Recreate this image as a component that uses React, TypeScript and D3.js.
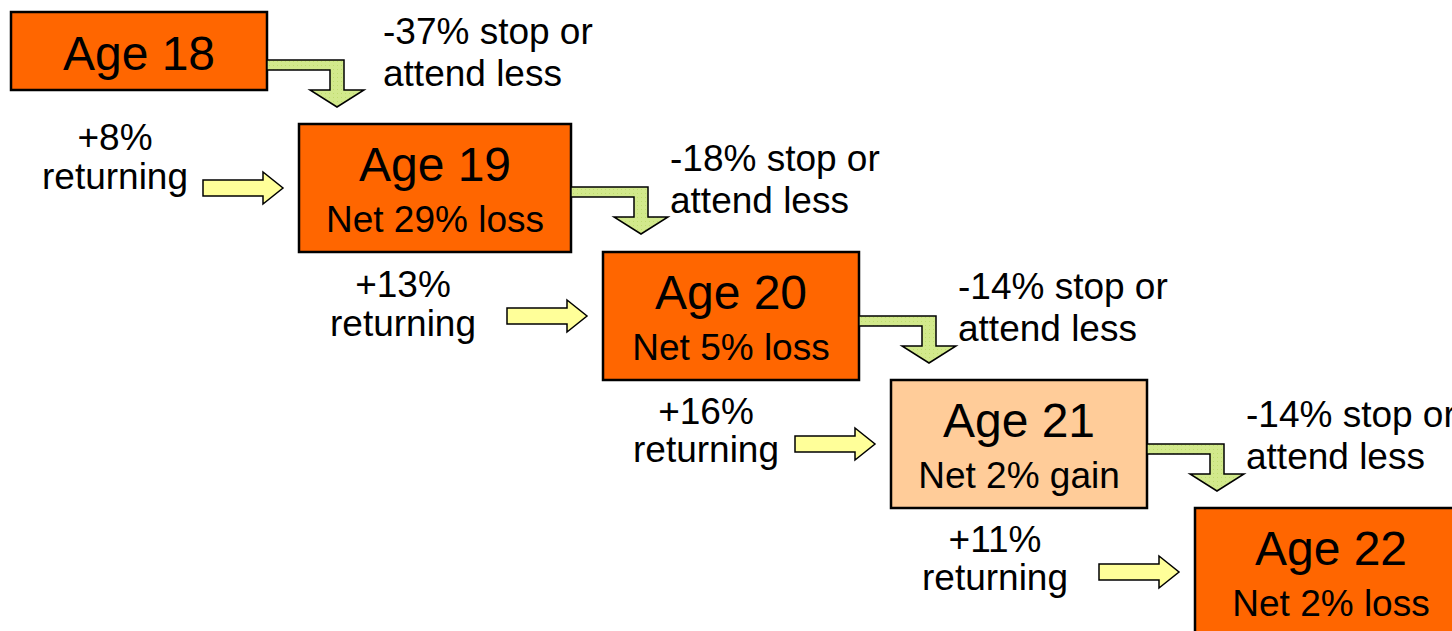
import React from "react";
import * as d3 from "d3";

// ---- data ----
const ages = ["Age 18", "Age 19", "Age 20", "Age 21", "Age 22"];
const netChange = ["", "Net 29% loss", "Net 5% loss", "Net 2% gain", "Net 2% loss"];
const stopPct = [-37, -18, -14, -14];
const returningPct = [8, 13, 16, 11];
const boxFills = ["#FF6600", "#FF6600", "#FF6600", "#FFCC99", "#FF6600"];

// ---- layout ----
const W = 1452;
const H = 631;
const boxX = [11, 299, 603, 891, 1195];
const boxY = [12, 124, 252, 380, 508];
const boxW = [256, 272, 256, 256, 272];
const boxH = [78, 128, 128, 128, 128];
const shaftTop = [60, 187, 316, 444];
const stopLabelX = [383, 670, 958, 1246];
const stopLabelY = [44, 171, 299, 427];
const retLabelX = [115, 403, 706, 995];
const retLabelY1 = [150, 297, 424, 552];
const retLabelY2 = [189, 336, 462, 590];

const FONT = "'Liberation Sans', Arial, Helvetica, sans-serif";
const SMALL = 37;

const line = d3.line<[number, number]>().curve(d3.curveLinearClosed);

function bentArrow(i: number): string {
  const x0 = boxX[i] + boxW[i];
  const outer = x0 + 77;
  const inner = outer - 14;
  const st = shaftTop[i];
  const sb = st + 10;
  const ht = st + 30;
  const cx = (outer + inner) / 2;
  const pts: [number, number][] = [
    [x0, st],
    [outer, st],
    [outer, ht],
    [cx + 27, ht],
    [cx, ht + 17],
    [cx - 27, ht],
    [inner, ht],
    [inner, sb],
    [x0, sb],
  ];
  return line(pts) as string;
}

function straightArrow(i: number): string {
  const target = i + 1;
  const tip = boxX[target] - 16;
  const start = tip - 80;
  const hs = tip - 20;
  const cy = boxY[target] + 64;
  const pts: [number, number][] = [
    [start, cy - 8],
    [hs, cy - 8],
    [hs, cy - 16],
    [tip, cy],
    [hs, cy + 16],
    [hs, cy + 8],
    [start, cy + 8],
  ];
  return line(pts) as string;
}

const fmtSigned = d3.format("+d");

export default function App() {
  return (
    <svg
      width={W}
      height={H}
      style={{ position: "absolute", left: 0, top: 0, background: "#fff" }}
      fontFamily={FONT}
    >
      <defs>
        <pattern id="dots" width="4" height="4" patternUnits="userSpaceOnUse">
          <rect width="4" height="4" fill="#D2E98C" />
          <rect x="1" y="1" width="1" height="1" fill="#BFDC6E" />
        </pattern>
      </defs>

      {ages.map((a, i) => (
        <g key={a}>
          <rect
            x={boxX[i]}
            y={boxY[i]}
            width={boxW[i]}
            height={boxH[i]}
            fill={boxFills[i]}
            stroke="#000"
            strokeWidth={2.5}
          />
          <text
            x={boxX[i] + boxW[i] / 2}
            y={i === 0 ? boxY[i] + 58 : boxY[i] + 57}
            textAnchor="middle"
            fontSize={48}
            fill="#000"
          >
            {a}
          </text>
          {netChange[i] && (
            <text
              x={boxX[i] + boxW[i] / 2}
              y={boxY[i] + 108}
              textAnchor="middle"
              fontSize={SMALL}
              fill="#000"
            >
              {netChange[i]}
            </text>
          )}
        </g>
      ))}

      {stopPct.map((p, i) => (
        <g key={"s" + i}>
          <path d={bentArrow(i)} fill="url(#dots)" stroke="#000" strokeWidth={1.5} />
          <text x={stopLabelX[i]} y={stopLabelY[i]} fontSize={SMALL} fill="#000">
            {`${p}% stop or`}
          </text>
          <text x={stopLabelX[i]} y={stopLabelY[i] + 42} fontSize={SMALL} fill="#000">
            attend less
          </text>
        </g>
      ))}

      {returningPct.map((p, i) => (
        <g key={"r" + i}>
          <path d={straightArrow(i)} fill="#FFFF99" stroke="#000" strokeWidth={1.5} />
          <text x={retLabelX[i]} y={retLabelY1[i]} textAnchor="middle" fontSize={SMALL} fill="#000">
            {`${fmtSigned(p)}%`}
          </text>
          <text x={retLabelX[i]} y={retLabelY2[i]} textAnchor="middle" fontSize={SMALL} fill="#000">
            returning
          </text>
        </g>
      ))}
    </svg>
  );
}
